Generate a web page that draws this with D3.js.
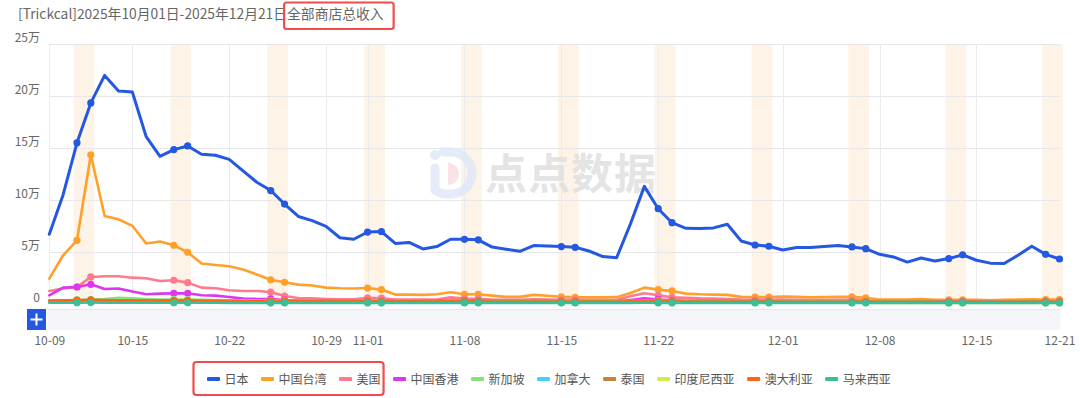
<!DOCTYPE html>
<html>
<head>
<meta charset="utf-8">
<script src="https://cdn.jsdelivr.net/npm/d3@7"></script>
<style>
  html, body { margin: 0; padding: 0; background: #fff; }
  svg { display: block; font-family: "Noto Sans CJK SC", "Noto Sans", sans-serif; }
</style>
</head>
<body>
<svg id="chart" width="1080" height="398"></svg>
<script>
// values are in 万 (10k)
const titleText = '[Trickcal]2025年10月01日-2025年12月21日';
const titleHighlight = '全部商店总收入';
const firstDay = '2025-10-09';
const dayCount = 74;
const xTickLabels = ['10-09', '10-15', '10-22', '10-29', '11-01', '11-08', '11-15', '11-22', '12-01', '12-08', '12-15', '12-21'];
const yTickValues = [0, 5, 10, 15, 20, 25];

const seriesNames = ['日本', '中国台湾', '美国', '中国香港', '新加坡', '加拿大', '泰国', '印度尼西亚', '澳大利亚', '马来西亚'];
const seriesColors = ['#2458e3', '#ffa02a', '#ff7a8c', '#dd36ef', '#86e27a', '#45d3ef', '#c4823f', '#d2ea4c', '#ff6416', '#3bbf98'];

const japan = [6.68, 10.5, 15.5, 19.35, 22.0, 20.5, 20.4, 16.1, 14.2, 14.85,
  15.2, 14.4, 14.3, 13.9, 12.8, 11.7, 10.9, 9.6, 8.4, 8.0,
  7.45, 6.35, 6.2, 6.9, 6.95, 5.8, 5.9, 5.27, 5.5, 6.2,
  6.2, 6.15, 5.45, 5.24, 5.04, 5.6, 5.55, 5.5, 5.43, 5.07,
  4.53, 4.43, 7.7, 11.3, 9.15, 7.8, 7.26, 7.23, 7.3, 7.65,
  6.04, 5.65, 5.53, 5.17, 5.4, 5.4, 5.5, 5.6, 5.46, 5.3,
  4.75, 4.5, 4.0, 4.4, 4.1, 4.34, 4.7, 4.18, 3.9, 3.86,
  4.66, 5.53, 4.75, 4.3];
const taiwan = [2.4, 4.66, 6.1, 14.35, 8.45, 8.13, 7.5, 5.8, 5.98, 5.62,
  4.95, 3.86, 3.72, 3.6, 3.28, 2.8, 2.3, 2.05, 1.83, 1.74,
  1.54, 1.48, 1.45, 1.5, 1.35, 0.87, 0.87, 0.84, 0.9, 1.09,
  0.9, 0.9, 0.77, 0.65, 0.65, 0.84, 0.75, 0.65, 0.6, 0.6,
  0.6, 0.62, 1.02, 1.54, 1.35, 1.22, 0.96, 0.9, 0.87, 0.84,
  0.65, 0.62, 0.62, 0.68, 0.65, 0.6, 0.62, 0.65, 0.65, 0.55,
  0.39, 0.39, 0.39, 0.45, 0.36, 0.36, 0.36, 0.36, 0.33, 0.36,
  0.39, 0.42, 0.39, 0.39];
const usa = [1.22, 1.45, 1.6, 2.57, 2.63, 2.63, 2.5, 2.44, 2.18, 2.25,
  2.02, 1.54, 1.48, 1.28, 1.22, 1.22, 1.12, 0.73, 0.54, 0.5,
  0.45, 0.42, 0.42, 0.55, 0.52, 0.4, 0.4, 0.38, 0.4, 0.6,
  0.48, 0.45, 0.38, 0.36, 0.36, 0.42, 0.4, 0.36, 0.36, 0.35,
  0.35, 0.36, 0.7, 1.0, 0.8, 0.6, 0.55, 0.5, 0.48, 0.45,
  0.38, 0.36, 0.36, 0.38, 0.36, 0.35, 0.35, 0.36, 0.36, 0.3,
  0.28, 0.28, 0.28, 0.3, 0.27, 0.27, 0.27, 0.27, 0.26, 0.27,
  0.28, 0.3, 0.28, 0.28];
const hongKong = [0.8, 1.54, 1.6, 1.86, 1.41, 1.45, 1.16, 0.9, 0.96, 0.99,
  0.99, 0.8, 0.77, 0.64, 0.48, 0.45, 0.45, 0.35, 0.32, 0.3,
  0.3, 0.28, 0.28, 0.28, 0.27, 0.26, 0.25, 0.25, 0.26, 0.3,
  0.28, 0.27, 0.25, 0.24, 0.24, 0.25, 0.24, 0.23, 0.23, 0.22,
  0.22, 0.22, 0.35, 0.5, 0.4, 0.32, 0.28, 0.26, 0.25, 0.24,
  0.22, 0.21, 0.21, 0.21, 0.2, 0.2, 0.2, 0.2, 0.2, 0.19,
  0.18, 0.18, 0.18, 0.18, 0.17, 0.17, 0.17, 0.17, 0.16, 0.16,
  0.16, 0.17, 0.16, 0.16];
const singapore = [0.3, 0.32, 0.35, 0.38, 0.45, 0.55, 0.52, 0.45, 0.4, 0.4,
  0.38, 0.36, 0.35, 0.33, 0.32, 0.3, 0.3, 0.28, 0.27, 0.26,
  0.25, 0.25, 0.25, 0.26, 0.25, 0.24, 0.24, 0.23, 0.23, 0.24,
  0.24, 0.23, 0.22, 0.22, 0.22, 0.22, 0.22, 0.21, 0.21, 0.21,
  0.21, 0.21, 0.25, 0.28, 0.26, 0.24, 0.23, 0.22, 0.22, 0.21,
  0.2, 0.2, 0.2, 0.2, 0.2, 0.2, 0.2, 0.2, 0.2, 0.19,
  0.19, 0.19, 0.19, 0.19, 0.18, 0.18, 0.18, 0.18, 0.18, 0.18,
  0.18, 0.19, 0.18, 0.18];
const canada = [0.15, 0.16, 0.18, 0.2, 0.19, 0.18, 0.17, 0.16, 0.16, 0.17,
  0.16, 0.15, 0.15, 0.14, 0.14, 0.14, 0.14, 0.13, 0.13, 0.13,
  0.13, 0.12, 0.12, 0.13, 0.13, 0.12, 0.12, 0.12, 0.12, 0.12,
  0.12, 0.12, 0.11, 0.11, 0.11, 0.11, 0.11, 0.11, 0.11, 0.11,
  0.11, 0.11, 0.13, 0.15, 0.14, 0.13, 0.12, 0.12, 0.11, 0.11,
  0.11, 0.11, 0.11, 0.1, 0.1, 0.1, 0.1, 0.1, 0.1, 0.1,
  0.1, 0.1, 0.1, 0.1, 0.1, 0.1, 0.1, 0.1, 0.1, 0.1,
  0.1, 0.1, 0.1, 0.1];
const thailand = [0.3, 0.31, 0.33, 0.36, 0.34, 0.33, 0.32, 0.3, 0.29, 0.3,
  0.29, 0.28, 0.27, 0.26, 0.25, 0.25, 0.24, 0.24, 0.23, 0.23,
  0.22, 0.22, 0.22, 0.23, 0.22, 0.21, 0.21, 0.21, 0.21, 0.22,
  0.21, 0.21, 0.2, 0.2, 0.2, 0.2, 0.2, 0.2, 0.2, 0.19,
  0.19, 0.19, 0.21, 0.23, 0.22, 0.21, 0.2, 0.2, 0.2, 0.19,
  0.19, 0.19, 0.19, 0.18, 0.18, 0.18, 0.18, 0.18, 0.18, 0.18,
  0.17, 0.17, 0.17, 0.17, 0.17, 0.17, 0.17, 0.17, 0.17, 0.17,
  0.17, 0.17, 0.17, 0.17];
const indonesia = [0.1, 0.11, 0.12, 0.13, 0.12, 0.12, 0.11, 0.11, 0.1, 0.1,
  0.1, 0.1, 0.1, 0.1, 0.09, 0.09, 0.09, 0.09, 0.09, 0.09,
  0.09, 0.09, 0.09, 0.09, 0.09, 0.08, 0.08, 0.08, 0.08, 0.08,
  0.08, 0.08, 0.08, 0.08, 0.08, 0.08, 0.08, 0.08, 0.08, 0.08,
  0.08, 0.08, 0.09, 0.1, 0.09, 0.09, 0.08, 0.08, 0.08, 0.08,
  0.08, 0.08, 0.08, 0.08, 0.08, 0.08, 0.08, 0.08, 0.08, 0.08,
  0.07, 0.07, 0.07, 0.07, 0.07, 0.07, 0.07, 0.07, 0.07, 0.07,
  0.07, 0.07, 0.07, 0.07];
const australia = [0.25, 0.27, 0.3, 0.32, 0.3, 0.29, 0.28, 0.27, 0.26, 0.27,
  0.26, 0.25, 0.24, 0.23, 0.22, 0.21, 0.21, 0.2, 0.19, 0.19,
  0.18, 0.18, 0.18, 0.19, 0.18, 0.17, 0.17, 0.17, 0.17, 0.18,
  0.17, 0.17, 0.16, 0.16, 0.16, 0.16, 0.16, 0.16, 0.16, 0.15,
  0.15, 0.15, 0.17, 0.19, 0.18, 0.17, 0.16, 0.16, 0.16, 0.15,
  0.15, 0.15, 0.15, 0.15, 0.15, 0.15, 0.15, 0.15, 0.15, 0.14,
  0.14, 0.14, 0.14, 0.14, 0.14, 0.14, 0.14, 0.14, 0.14, 0.14,
  0.14, 0.14, 0.14, 0.14];
const malaysia = [0.08, 0.08, 0.09, 0.1, 0.09, 0.09, 0.09, 0.08, 0.08, 0.08,
  0.08, 0.08, 0.08, 0.07, 0.07, 0.07, 0.07, 0.07, 0.07, 0.07,
  0.07, 0.07, 0.07, 0.07, 0.07, 0.06, 0.06, 0.06, 0.06, 0.06,
  0.06, 0.06, 0.06, 0.06, 0.06, 0.06, 0.06, 0.06, 0.06, 0.06,
  0.06, 0.06, 0.07, 0.08, 0.07, 0.07, 0.06, 0.06, 0.06, 0.06,
  0.06, 0.06, 0.06, 0.06, 0.06, 0.06, 0.06, 0.06, 0.06, 0.06,
  0.06, 0.06, 0.06, 0.06, 0.06, 0.06, 0.06, 0.06, 0.06, 0.06,
  0.06, 0.06, 0.06, 0.06];

const seriesValues = [japan, taiwan, usa, hongKong, singapore, canada, thailand, indonesia, australia, malaysia];

const svg = d3.select('#chart');
const plot = { left: 49.3, right: 1059.5, top: 44.3, bottom: 303.6 };

const day0 = d3.utcParse('%Y-%m-%d')(firstDay);
const dates = d3.range(dayCount).map(i => d3.utcDay.offset(day0, i));

const x = d3.scaleUtc()
  .domain([dates[0], dates[dates.length - 1]])
  .range([plot.left, plot.right]);
const y = d3.scaleLinear()
  .domain([0, 25])
  .range([plot.bottom, plot.top]);

const step = x(dates[1]) - x(dates[0]);

// weekend bands
const weekendDays = dates.filter(d => d.getUTCDay() === 6);
svg.append('g')
  .selectAll('rect')
  .data(weekendDays)
  .enter().append('rect')
    .attr('x', d => x(d) - step * 0.25)
    .attr('width', step * 1.5)
    .attr('y', plot.top)
    .attr('height', plot.bottom - plot.top)
    .attr('fill', '#fdf3e6');

// grid
const parseTick = d3.utcParse('%Y-%m-%d');
const tickDates = xTickLabels.map(t => parseTick('2025-' + t));

svg.append('g')
  .selectAll('line')
  .data(yTickValues.filter(v => v > 0))
  .enter().append('line')
    .attr('x1', plot.left)
    .attr('x2', plot.right)
    .attr('y1', d => Math.round(y(d)) + 0.5)
    .attr('y2', d => Math.round(y(d)) + 0.5)
    .attr('stroke', '#e7e7ea')
    .attr('stroke-width', 1);

svg.append('g')
  .selectAll('line')
  .data(tickDates.slice(0, -1))
  .enter().append('line')
    .attr('x1', d => Math.round(x(d)) + 0.5)
    .attr('x2', d => Math.round(x(d)) + 0.5)
    .attr('y1', plot.top)
    .attr('y2', plot.bottom)
    .attr('stroke', '#ebebee')
    .attr('stroke-width', 1);

// watermark
const wm = svg.append('g').attr('opacity', 0.85);
wm.append('path')
  .attr('d', 'M443,152 h8 a21,21 0 0 1 0,42 h-6 a21,21 0 0 1 -10,-4')
  .attr('fill', 'none')
  .attr('stroke', '#e1e8f8')
  .attr('stroke-width', 9)
  .attr('stroke-linecap', 'round');
wm.append('line')
  .attr('x1', 435).attr('x2', 435).attr('y1', 168).attr('y2', 188)
  .attr('stroke', '#e1e8f8').attr('stroke-width', 9).attr('stroke-linecap', 'round');
wm.append('circle').attr('cx', 435).attr('cy', 155).attr('r', 5).attr('fill', '#e1e8f8');
wm.append('path')
  .attr('d', 'M448,163 a11,11 0 0 1 0,22 z')
  .attr('fill', '#f9dfe2');
wm.append('text')
  .attr('x', 485)
  .attr('y', 189)
  .attr('font-size', 42)
  .attr('font-weight', 700)
  .attr('fill', '#e0e0e0')
  .attr('letter-spacing', 1)
  .text('点点数据');

// axes
const xAxis = d3.axisBottom(x)
  .tickValues(tickDates)
  .tickFormat(d3.utcFormat('%m-%d'))
  .tickSize(0);
svg.append('g')
  .attr('transform', `translate(0,${plot.bottom})`)
  .call(xAxis)
  .call(g => g.select('.domain').remove())
  .call(g => g.selectAll('text')
    .attr('y', 41.5)
    .attr('dy', null)
    .attr('fill', '#666')
    .attr('font-size', 12)
    .attr('font-family', '"Noto Sans CJK SC", sans-serif'));

const yAxis = d3.axisLeft(y)
  .tickValues(yTickValues)
  .tickFormat(v => v === 0 ? '0' : v + '万')
  .tickSize(0);
svg.append('g')
  .attr('transform', 'translate(40,0)')
  .call(yAxis)
  .call(g => g.select('.domain').remove())
  .call(g => g.selectAll('text')
    .attr('x', 0)
    .attr('y', -2.5)
    .attr('dy', null)
    .attr('fill', '#666')
    .attr('font-size', 12)
    .attr('font-family', '"Noto Sans CJK SC", sans-serif'));

// navigator
svg.append('rect')
  .attr('x', 47).attr('y', 310)
  .attr('width', plot.right - 47 + 1).attr('height', 20)
  .attr('fill', '#f3f5f8');
svg.append('line')
  .attr('x1', 47).attr('x2', plot.right + 1)
  .attr('y1', 309.5).attr('y2', 309.5)
  .attr('stroke', '#e6e8ee');
svg.append('rect')
  .attr('x', 27).attr('y', 309)
  .attr('width', 19).attr('height', 21)
  .attr('fill', '#2458e3');
svg.append('path')
  .attr('d', 'M36.5,313.5 v12 M30.5,319.5 h12')
  .attr('stroke', '#fff')
  .attr('stroke-width', 2);

// lines
const line = d3.line()
  .x((d, i) => x(dates[i]))
  .y(d => y(d));

const seriesG = svg.append('g');
seriesValues.forEach((vals, k) => {
  const g = seriesG.append('g');
  g.append('path')
    .datum(vals)
    .attr('d', line)
    .attr('fill', 'none')
    .attr('stroke', seriesColors[k])
    .attr('stroke-width', k === 0 ? 3 : 2.6)
    .attr('stroke-linejoin', 'round')
    .attr('stroke-linecap', 'round');

  const marks = dates
    .map((d, i) => ({ d, v: vals[i] }))
    .filter(p => p.d.getUTCDay() === 6 || p.d.getUTCDay() === 0);
  g.selectAll('circle')
    .data(marks)
    .enter().append('circle')
      .attr('cx', p => x(p.d))
      .attr('cy', p => y(p.v))
      .attr('r', 3.6)
      .attr('fill', seriesColors[k]);
});

// title
const title = svg.append('text')
  .attr('x', 18)
  .attr('y', 19)
  .attr('font-size', 13.8)
  .attr('fill', '#666');
title.append('tspan').text(titleText);
title.append('tspan').text(titleHighlight);

const hlStart = title.node().getSubStringLength(0, titleText.length);
svg.append('rect')
  .attr('x', 18 + hlStart - 3)
  .attr('y', 2.5)
  .attr('width', title.node().getComputedTextLength() - hlStart + 13)
  .attr('height', 26.5)
  .attr('rx', 2.5)
  .attr('fill', 'none')
  .attr('stroke', '#f04c4c')
  .attr('stroke-width', 2.2);

// legend
const legend = svg.append('g');
let lx = 207;
const legendItems = [];
seriesNames.forEach((name, k) => {
  const item = legend.append('g').attr('transform', `translate(${lx},0)`);
  item.append('rect')
    .attr('x', 0).attr('y', 377)
    .attr('width', 13).attr('height', 4)
    .attr('rx', 1)
    .attr('fill', seriesColors[k]);
  const t = item.append('text')
    .attr('x', 17.5)
    .attr('y', 383.5)
    .attr('font-size', 12)
    .attr('fill', '#555')
    .text(name);
  const w = t.node().getComputedTextLength();
  legendItems.push({ x: lx, w: 17.5 + w });
  lx += 17.5 + w + 12.5;
});

const lastOf = legendItems[2];
svg.append('rect')
  .attr('x', 193.5)
  .attr('y', 362)
  .attr('width', lastOf.x + lastOf.w - 193.5 + 3)
  .attr('height', 33)
  .attr('rx', 3)
  .attr('fill', 'none')
  .attr('stroke', '#f04c4c')
  .attr('stroke-width', 2.2);
</script>
</body>
</html>
